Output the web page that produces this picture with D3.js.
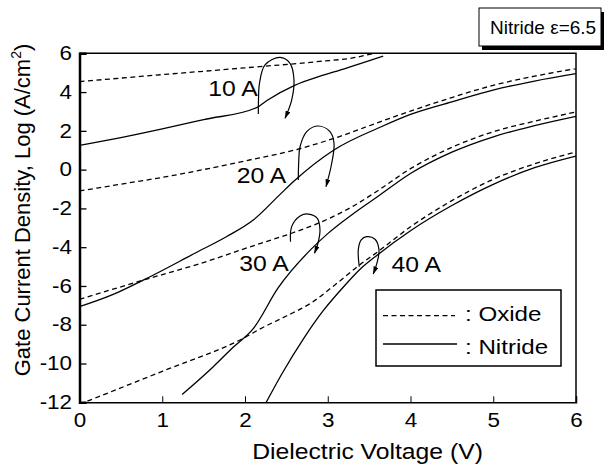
<!DOCTYPE html>
<html>
<head>
<meta charset="utf-8">
<script src="https://cdn.jsdelivr.net/npm/d3@7"></script>
<style>
  body { margin: 0; background: #fff; }
  text { font-family: "Liberation Sans", Arial, sans-serif; fill: #000; }
</style>
</head>
<body>
<script>
// values: [voltage (V), log current density]
const oxide10   = [[0,4.54],[1,4.9],[2,5.25],[2.9,5.58],[3.3,5.76],[3.58,6.02]];
const nitride10 = [[0,1.25],[0.5,1.65],[1,2.1],[1.5,2.58],[2.14,3.2],[2.27,3.58],[2.6,4.35],[2.89,4.8],[3.2,5.2],[3.67,5.85]];
const oxide20   = [[0,-1.1],[0.5,-0.75],[1,-0.4],[1.46,-0.03],[2,0.45],[2.67,1.09],[3.15,1.72],[3.64,2.48],[4,3.02],[4.5,3.72],[5.02,4.37],[5.5,4.82],[6,5.21]];
const nitride20 = [[0,-7.07],[0.4,-6.45],[0.77,-5.7],[1.4,-4.3],[1.78,-3.45],[2.1,-2.6],[2.43,-1.25],[2.59,-0.6],[3.07,1.0],[3.64,2.2],[4,2.85],[4.5,3.5],[5.02,4.13],[5.5,4.57],[6,4.95]];
const oxide30   = [[0,-6.69],[0.77,-5.7],[1.46,-4.84],[2.19,-3.8],[2.55,-3.3],[2.91,-2.72],[3.3,-1.9],[3.6,-1.1],[4,0.05],[4.5,1.15],[5.02,1.98],[5.5,2.5],[6,2.97]];
const nitride30 = [[1.24,-11.6],[1.62,-10.15],[1.86,-9.15],[2.1,-8.2],[2.4,-6.1],[2.8,-4.1],[3.0,-3.3],[3.3,-2.3],[3.6,-1.4],[4,-0.2],[4.5,0.9],[5.02,1.72],[5.5,2.27],[6,2.75]];
const oxide40   = [[0,-12.1],[1,-10.4],[2,-8.65],[2.19,-8.2],[2.5,-7.55],[2.79,-6.9],[3.1,-5.9],[3.39,-4.9],[3.6,-4.25],[4,-2.95],[4.5,-1.6],[5.02,-0.46],[5.5,0.3],[6,0.91]];
const nitride40 = [[2.25,-12.05],[2.45,-10.5],[2.71,-8.7],[2.95,-7.25],[3.2,-6.0],[3.4,-5.1],[3.6,-4.4],[4,-3.15],[4.5,-1.85],[5.02,-0.72],[5.5,0.1],[6,0.7]];

// thickness labels and where they sit (data units, text start / baseline)
const thickLabels = ['10 A', '20 A', '30 A', '40 A'];
const labelPos = [[1.556,3.8],[1.9,-0.67],[1.93,-5.21],[3.77,-5.26]];

// curled arrows next to each label (data units)
const loop10 = [[2.161,2.87],[2.163,3.59],[2.175,4.45],[2.242,5.40],[2.423,5.79],[2.544,5.48],[2.592,4.62],[2.564,3.59],[2.484,2.65]];
const loop20 = [[2.644,-0.53],[2.650,0.50],[2.665,1.18],[2.746,1.96],[2.886,2.25],[3.027,1.96],[3.076,1.36],[3.048,0.33],[2.979,-0.88]];
const loop30 = [[2.550,-3.72],[2.564,-2.94],[2.665,-2.39],[2.765,-2.29],[2.874,-2.51],[2.906,-3.11],[2.886,-3.72],[2.840,-4.31]];
const loop40 = [[3.381,-5.01],[3.369,-4.14],[3.402,-3.63],[3.471,-3.46],[3.571,-3.59],[3.619,-4.14],[3.599,-4.75],[3.550,-5.38]];

const xTicks = [0,1,2,3,4,5,6];
const yTicks = [-12,-10,-8,-6,-4,-2,0,2,4,6];

const width = 608, height = 466;
const plot = {left: 79.5, right: 576, top: 53.3, bottom: 402.3};
const stretch = 'scale(1.15,1)';

const x = d3.scaleLinear().domain([0, 6]).range([plot.left, plot.right]);
const y = d3.scaleLinear().domain([-12, 6]).range([plot.bottom, plot.top]);

const svg = d3.select('body').append('svg')
  .attr('width', width)
  .attr('height', height);

const defs = svg.append('defs');
defs.append('clipPath').attr('id', 'clip')
  .append('rect')
  .attr('x', plot.left).attr('y', plot.top)
  .attr('width', plot.right - plot.left).attr('height', plot.bottom - plot.top);
defs.append('marker')
  .attr('id', 'arrow')
  .attr('markerUnits', 'userSpaceOnUse')
  .attr('viewBox', '0 0 8 5')
  .attr('refX', 7.5).attr('refY', 2.5)
  .attr('markerWidth', 8).attr('markerHeight', 5)
  .attr('orient', 'auto')
  .append('path').attr('d', 'M0,0L8,2.5L0,5Z').attr('fill', '#000');

// frame: top and right
svg.append('path')
  .attr('d', `M${plot.left},${plot.top}H${plot.right}V${plot.bottom}`)
  .attr('fill', 'none').attr('stroke', '#000').attr('stroke-width', 1.5);

// X axis, ticks pointing inward
const xAxis = svg.append('g').attr('transform', `translate(0,${plot.bottom})`);
xAxis.call(d3.axisBottom(x).tickValues(d3.range(0.5, 6, 1)).tickSize(-3).tickFormat(''));
xAxis.call(d3.axisBottom(x).tickValues(xTicks).tickSize(-6).tickPadding(11).tickFormat(d => String(d)));
xAxis.selectAll('.domain').attr('stroke-width', 1.5);
xAxis.selectAll('text').attr('font-size', 19.5).attr('font-family', null).attr('transform', stretch);

// Y axis, dense inward ticks
const yAxis = svg.append('g').attr('transform', `translate(${plot.left},0)`);
yAxis.call(d3.axisLeft(y).tickValues(d3.range(-12, 6.01, 0.25)).tickSize(-2.5).tickFormat(''));
yAxis.call(d3.axisLeft(y).tickValues(d3.range(-12, 6.01, 1)).tickSize(-4).tickFormat(''));
yAxis.call(d3.axisLeft(y).tickValues(yTicks).tickSize(-7).tickPadding(6.5).tickFormat(d => String(d)));
yAxis.selectAll('.domain').attr('stroke-width', 2.5);
yAxis.selectAll('line').attr('stroke-width', 1.3);
yAxis.selectAll('text').attr('font-size', 19.5).attr('font-family', null).attr('transform', stretch);

// curves
const line = d3.line()
  .x(d => x(d[0]))
  .y(d => y(d[1]))
  .curve(d3.curveMonotoneX);

const oxides = [oxide10, oxide20, oxide30, oxide40];
const nitrides = [nitride10, nitride20, nitride30, nitride40];

const curves = svg.append('g').attr('clip-path', 'url(#clip)')
  .attr('fill', 'none').attr('stroke', '#000').attr('stroke-width', 1.3);

curves.selectAll('.oxide')
  .data(oxides)
  .join('path')
  .attr('class', 'oxide')
  .attr('d', line)
  .attr('stroke-dasharray', '5,3.5');

curves.selectAll('.nitride')
  .data(nitrides)
  .join('path')
  .attr('class', 'nitride')
  .attr('d', line);

// curled arrows
const loopLine = d3.line()
  .x(d => x(d[0]))
  .y(d => y(d[1]))
  .curve(d3.curveCatmullRom.alpha(0.5));

svg.append('g')
  .selectAll('path')
  .data([loop10, loop20, loop30, loop40])
  .join('path')
  .attr('d', loopLine)
  .attr('fill', 'none')
  .attr('stroke', '#000')
  .attr('stroke-width', 1.2)
  .attr('marker-end', 'url(#arrow)');

// thickness labels
svg.append('g')
  .selectAll('text')
  .data(thickLabels)
  .join('text')
  .attr('font-size', 21.5)
  .attr('transform', (d, i) => `translate(${x(labelPos[i][0])},${y(labelPos[i][1])}) ${stretch}`)
  .text(d => d);

// legend
const legend = svg.append('g');
legend.append('rect')
  .attr('x', 376).attr('y', 290).attr('width', 185).attr('height', 76)
  .attr('fill', '#fff').attr('stroke', '#000').attr('stroke-width', 1.5);
legend.append('line')
  .attr('x1', 383).attr('x2', 455).attr('y1', 315.7).attr('y2', 315.7)
  .attr('stroke', '#000').attr('stroke-width', 1.3).attr('stroke-dasharray', '5,3.5');
legend.append('line')
  .attr('x1', 383).attr('x2', 457).attr('y1', 344).attr('y2', 344)
  .attr('stroke', '#000').attr('stroke-width', 1.3);
legend.append('text')
  .attr('font-size', 21)
  .attr('transform', `translate(465,321) ${stretch}`)
  .text(': Oxide');
legend.append('text')
  .attr('font-size', 21)
  .attr('transform', `translate(465,354) ${stretch}`)
  .text(': Nitride');

// box with shadow, top right
svg.append('rect')
  .attr('x', 482).attr('y', 12).attr('width', 122).attr('height', 38)
  .attr('fill', '#000');
svg.append('rect')
  .attr('x', 479).attr('y', 8).attr('width', 122).attr('height', 38)
  .attr('fill', '#fff').attr('stroke', '#000').attr('stroke-width', 1);
svg.append('text')
  .attr('x', 490).attr('y', 34)
  .attr('font-size', 19)
  .text('Nitride ε=6.5');

// axis titles
svg.append('text')
  .attr('font-size', 21.5)
  .attr('text-anchor', 'middle')
  .attr('transform', `translate(367.5,459) ${stretch}`)
  .text('Dielectric Voltage (V)');

const yTitle = svg.append('text')
  .attr('font-size', 22)
  .attr('text-anchor', 'middle')
  .attr('transform', 'translate(29.5,210) rotate(-90)');
yTitle.append('tspan').text('Gate Current Density, Log (A/cm');
yTitle.append('tspan').attr('font-size', 14).attr('dy', -9).text('2');
yTitle.append('tspan').attr('dy', 9).text(')');
</script>
</body>
</html>
